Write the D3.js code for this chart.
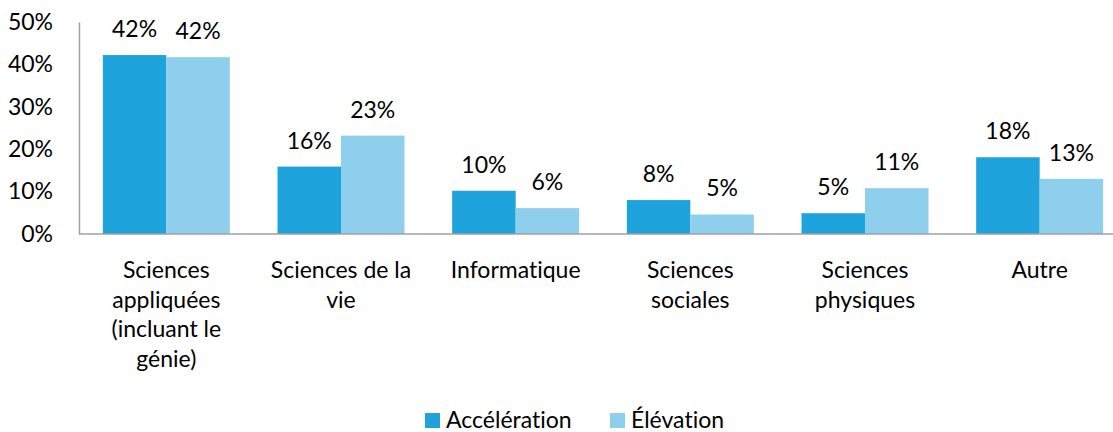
<!DOCTYPE html>
<html>
<head>
<meta charset="utf-8">
<script src="https://cdn.jsdelivr.net/npm/d3@7"></script>
<style>
  body { margin: 0; background: #fff; }
  text { font-family: Lato, "Open Sans", sans-serif; fill: #000; font-variant-ligatures: none; }
</style>
</head>
<body>
<div id="chart"></div>
<script>
const categories = [
  "Sciences appliquées (incluant le génie)",
  "Sciences de la vie",
  "Informatique",
  "Sciences sociales",
  "Sciences physiques",
  "Autre"
];
// line breaks as they appear under the axis
const categoryLines = [
  ["Sciences", "appliquées", "(incluant le", "génie)"],
  ["Sciences de la", "vie"],
  ["Informatique"],
  ["Sciences", "sociales"],
  ["Sciences", "physiques"],
  ["Autre"]
];
const series = ["Accélération", "Élévation"];
const acceleration = [0.422, 0.159, 0.102, 0.080, 0.049, 0.181];
const elevation = [0.417, 0.232, 0.061, 0.046, 0.108, 0.130];
const yTicks = [0, 0.1, 0.2, 0.3, 0.4, 0.5];
const colors = ["#1ea3dc", "#8ecfed"];

const width = 1113, height = 432;
const left = 79, baseY = 234, topY = 22;
const fontSize = "23px";

const svg = d3.select("#chart").append("svg")
  .attr("width", width)
  .attr("height", height);

const x = d3.scaleBand()
  .domain(categories)
  .range([left, 1127])
  .paddingInner(0.273)
  .paddingOuter(0.1365);

const xSub = d3.scaleBand()
  .domain(series)
  .range([0, x.bandwidth()]);

const y = d3.scaleLinear()
  .domain([0, 0.5])
  .range([baseY, topY]);

// y axis labels
const yAxis = svg.append("g")
  .attr("transform", "translate(" + left + ",0)")
  .call(d3.axisLeft(y).tickValues(yTicks).tickFormat(d3.format(".0%")).tickSize(0).tickPadding(26));
yAxis.select(".domain").attr("stroke", "#a0a0a0").attr("stroke-width", 1.5);
yAxis.selectAll(".tick text")
  .style("font-size", fontSize)
  .style("font-family", "Lato, 'Open Sans', sans-serif")
  .attr("fill", "#000");

const rows = categories.map((c, i) => ({ cat: c, values: [acceleration[i], elevation[i]] }));

const groups = svg.append("g").selectAll("g")
  .data(rows)
  .enter()
  .append("g")
  .attr("transform", (d) => "translate(" + x(d.cat) + ",0)");

groups.selectAll("rect")
  .data((d) => d.values.map((v, j) => ({ key: series[j], v: v, j: j })))
  .enter()
  .append("rect")
  .attr("x", (d) => xSub(d.key))
  .attr("y", (d) => y(d.v))
  .attr("width", xSub.bandwidth())
  .attr("height", (d) => baseY - y(d.v))
  .attr("fill", (d) => colors[d.j]);

groups.selectAll(".lbl")
  .data((d) => d.values.map((v, j) => ({ key: series[j], v: v })))
  .enter()
  .append("text")
  .attr("class", "lbl")
  .attr("x", (d) => xSub(d.key) + xSub.bandwidth() / 2)
  .attr("y", (d) => y(d.v) - 18)
  .attr("text-anchor", "middle")
  .style("font-size", fontSize)
  .text((d) => Math.round(d.v * 100) + "%");

// baseline
svg.append("line")
  .attr("x1", left)
  .attr("x2", width)
  .attr("y1", baseY)
  .attr("y2", baseY)
  .attr("stroke", "#a0a0a0")
  .attr("stroke-width", 1.5);

// category labels
categories.forEach((c, i) => {
  const t = svg.append("text")
    .attr("text-anchor", "middle")
    .style("font-size", fontSize);
  categoryLines[i].forEach((line, k) => {
    t.append("tspan")
      .attr("x", x(c) + x.bandwidth() / 2)
      .attr("y", 278 + k * 29.7)
      .text(line);
  });
});

// legend
const legendX = [425, 610];
const legend = svg.append("g").selectAll("g")
  .data(series)
  .enter()
  .append("g")
  .attr("transform", (d, i) => "translate(" + legendX[i] + ",413)");
legend.append("rect")
  .attr("width", 15)
  .attr("height", 15)
  .attr("fill", (d, i) => colors[i]);
legend.append("text")
  .attr("x", 21)
  .attr("y", 15)
  .style("font-size", fontSize)
  .text((d) => d);
</script>
</body>
</html>
